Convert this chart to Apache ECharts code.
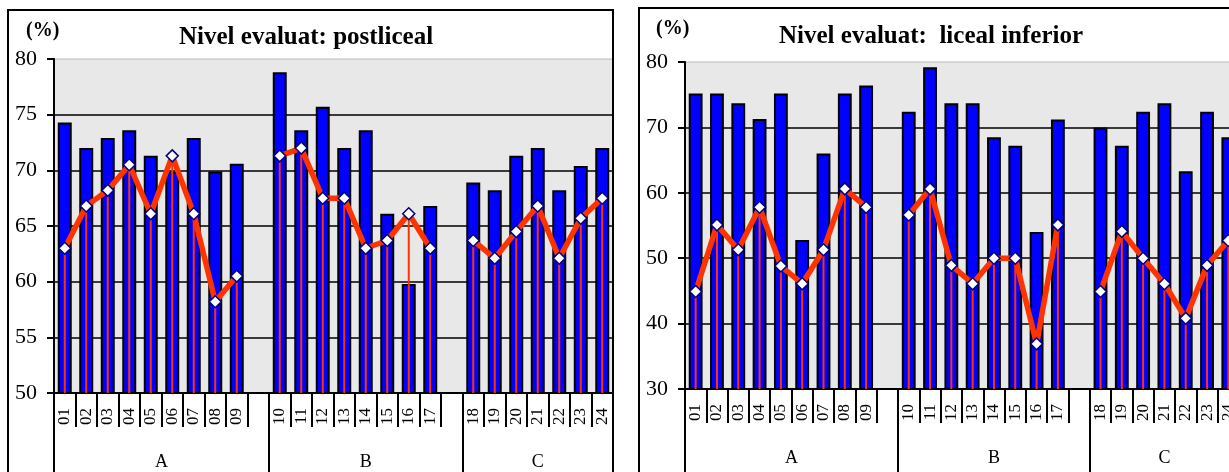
<!DOCTYPE html>
<html>
<head>
<meta charset="utf-8">
<script src="https://cdn.jsdelivr.net/npm/echarts@6/dist/echarts.min.js"></script>
<style>
html,body{margin:0;padding:0;background:#fff;overflow:hidden;width:1229px;height:472px;}
#c{width:1250px;height:472px;}
</style>
</head>
<body>
<div id="c"></div>
<script>
// ---- data ----
var groupNames = ['A', 'B', 'C'];
var groupCodes = [
  ['01','02','03','04','05','06','07','08','09'],
  ['10','11','12','13','14','15','16','17'],
  ['18','19','20','21','22','23','24']
];
var postTitle = 'Nivel evaluat: postliceal';
var postTicks = [50, 55, 60, 65, 70, 75, 80];
var postBars = [74.3,72.0,72.9,73.6,71.3,69.9,72.9,69.9,70.6, 78.8,73.6,75.7,72.0,73.6,66.1,59.8,66.8, 68.9,68.2,71.3,72.0,68.2,70.4,72.0];
var postLine = [63.0,66.8,68.2,70.5,66.1,71.3,66.1,58.2,60.5, 71.3,72.0,67.5,67.5,63.0,63.7,66.1,63.0, 63.7,62.1,64.5,66.8,62.1,65.7,67.5];

var infTitle = 'Nivel evaluat:  liceal inferior';
var infTicks = [30, 40, 50, 60, 70, 80];
var infBars = [75.2,75.2,73.7,71.3,75.2,52.8,66.0,75.2,76.4, 72.4,79.2,73.7,73.7,68.5,67.2,54.0,71.2, 70.0,67.2,72.4,73.7,63.3,72.4,68.5];
var infLine = [44.9,55.1,51.3,57.8,48.8,46.1,51.3,60.6,57.8, 56.6,60.6,48.9,46.1,50.0,50.0,36.9,55.1, 44.9,54.1,50.0,46.1,40.8,48.9,52.7];

// ---- build category list with a blank gap after groups A and B ----
var cats = [];
var groupSizes = [];
groupCodes.forEach(function (g, gi) {
  g.forEach(function (c) { cats.push(c); });
  var size = g.length;
  if (gi < groupCodes.length - 1) { cats.push(' '.repeat(gi + 1)); size++; }
  groupSizes.push(size);
});
function withGaps(vals) {
  var out = [], k = 0;
  groupCodes.forEach(function (g, gi) {
    g.forEach(function () { out.push(vals[k++]); });
    if (gi < groupCodes.length - 1) out.push('-');
  });
  return out;
}
// group axis: half-category points
var nCat = cats.length;
var halfPts = [];
for (var i = 0; i <= nCat * 2; i++) halfPts.push(String(i));
var groupTickIdx = [0], groupLabelIdx = {};
var acc = 0;
groupSizes.forEach(function (s, gi) {
  groupLabelIdx[acc * 2 + s] = groupNames[gi];
  acc += s;
  groupTickIdx.push(acc * 2);
});

var serif = '"Liberation Serif","Times New Roman",serif';

function grid(left, top, width, height) {
  return { left: left, top: top, width: width, height: height, show: true,
           backgroundColor: '#E8E8E8', borderColor: '#b8b8b8', borderWidth: 1, containLabel: false };
}
function xAxes(gi) {
  return [
    { type: 'category', gridIndex: gi, data: cats, boundaryGap: true,
      axisLine: { lineStyle: { color: '#000', width: 2 } },
      axisTick: { show: true, interval: 0, length: 34, lineStyle: { color: '#000', width: 2 } },
      axisLabel: { interval: 0, rotate: 90, margin: 15, fontFamily: serif, fontSize: 17, color: '#000' },
      splitLine: { show: false } },
    { type: 'category', gridIndex: gi, data: cats, show: false },
    { type: 'category', gridIndex: gi, data: halfPts, boundaryGap: false, position: 'bottom',
      axisLine: { show: false },
      axisTick: { show: true, length: 100, interval: function (idx) { return groupTickIdx.indexOf(idx) >= 0; },
                  lineStyle: { color: '#000', width: 2 } },
      axisLabel: { show: true, margin: 60, fontFamily: serif, fontSize: 18, color: '#000',
                   interval: function (idx) { return groupLabelIdx[idx] !== undefined; },
                   formatter: function (v) { return groupLabelIdx[+v] || ''; } },
      splitLine: { show: false } }
  ];
}
function yAxis(gi, ticks) {
  return { type: 'value', gridIndex: gi, min: ticks[0], max: ticks[ticks.length - 1],
           interval: ticks[1] - ticks[0],
           axisLine: { show: true, lineStyle: { color: '#000', width: 2 } },
           axisTick: { show: true, length: 7, lineStyle: { color: '#000', width: 2 } },
           axisLabel: { margin: 17, fontFamily: serif, fontSize: 22, color: '#000' },
           splitLine: { show: true, showMaxLine: false, lineStyle: { color: '#000', width: 1.5 } } };
}
function seriesFor(gi, bars, line) {
  var xb = gi * 3;
  return [
    { type: 'bar', xAxisIndex: xb, yAxisIndex: gi, data: withGaps(bars), barCategoryGap: '35%',
      itemStyle: { color: '#0000FF', borderColor: '#000', borderWidth: 2 }, z: 2, silent: true },
    { type: 'bar', xAxisIndex: xb + 1, yAxisIndex: gi, data: withGaps(line), barWidth: 2,
      itemStyle: { color: '#FF3300' }, z: 3, silent: true },
    { type: 'line', xAxisIndex: xb, yAxisIndex: gi, data: withGaps(line), connectNulls: false,
      lineStyle: { color: '#FF3300', width: 5.5 }, symbol: 'diamond', symbolSize: 12,
      itemStyle: { color: '#fff', borderColor: '#000080', borderWidth: 1.5 }, z: 4, silent: true }
  ];
}

var chart = echarts.init(document.getElementById('c'), null, { renderer: 'canvas' });
chart.setOption({
  animation: false,
  backgroundColor: '#fff',
  title: [
    { text: postTitle, left: 174, top: 20, textStyle: { fontFamily: serif, fontSize: 25, fontWeight: 'bold', color: '#000' } },
    { text: '(%)', left: 21, top: 16, textStyle: { fontFamily: serif, fontSize: 20, fontWeight: 'bold', color: '#000' } },
    { text: infTitle, left: 774, top: 19, textStyle: { fontFamily: serif, fontSize: 25, fontWeight: 'bold', color: '#000' } },
    { text: '(%)', left: 651, top: 14, textStyle: { fontFamily: serif, fontSize: 20, fontWeight: 'bold', color: '#000' } }
  ],
  graphic: [
    { type: 'rect', shape: { x: 8, y: 10, width: 605, height: 520 }, style: { fill: null, stroke: '#000', lineWidth: 2 }, z: 100, silent: true },
    { type: 'rect', shape: { x: 639, y: 8, width: 620, height: 520 }, style: { fill: null, stroke: '#000', lineWidth: 2 }, z: 100, silent: true }
  ],
  grid: [ grid(54, 59, 559, 334), grid(685, 62, 554, 327) ],
  xAxis: xAxes(0).concat(xAxes(1)),
  yAxis: [ yAxis(0, postTicks), yAxis(1, infTicks) ],
  series: seriesFor(0, postBars, postLine).concat(seriesFor(1, infBars, infLine))
});
</script>
</body>
</html>
